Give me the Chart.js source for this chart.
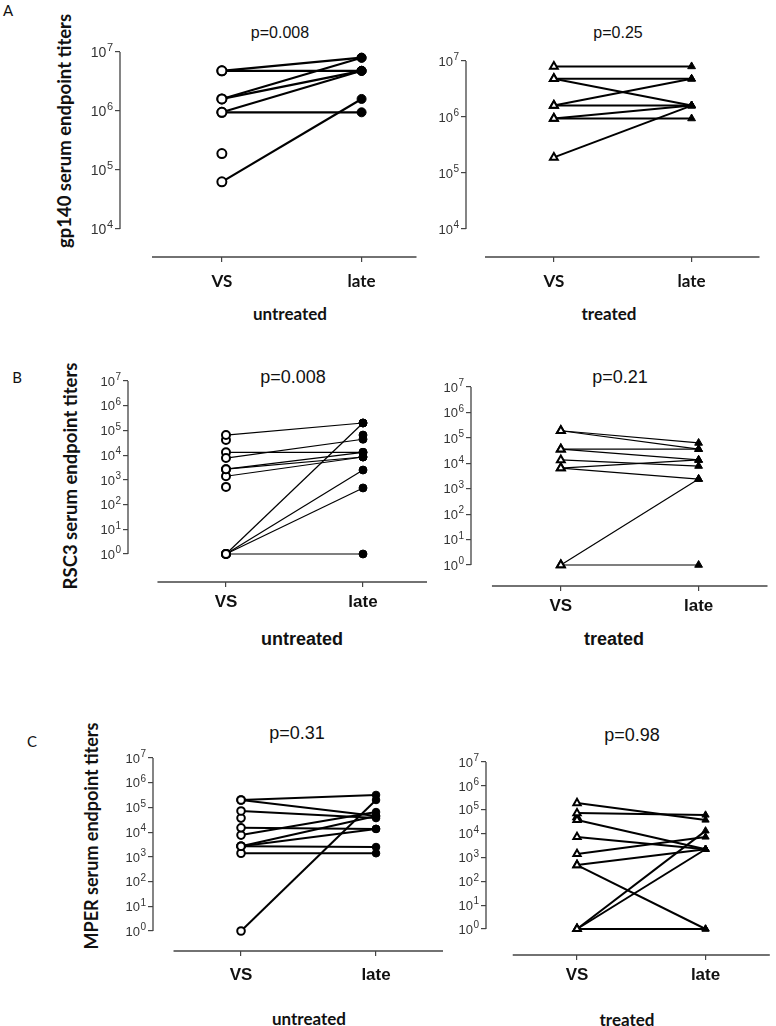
<!DOCTYPE html>
<html>
<head>
<meta charset="utf-8">
<script src="https://cdn.jsdelivr.net/npm/chart.js@4.4.1/dist/chart.umd.min.js"></script>
<style>
  html, body { margin: 0; background: #fff; }
  #fig { position: relative; width: 776px; height: 1026px; overflow: hidden; }
  canvas { position: absolute; }
  .t { position: absolute; transform: translate(-50%, -50%); white-space: nowrap; color: #111; line-height: 1; }
  .cal { font-family: Lato, "Open Sans", sans-serif; }
  .ari { font-family: "Liberation Sans", Arial, sans-serif; }
  .b { font-weight: bold; }
  .rot { transform: translate(-50%, -50%) rotate(-90deg); }
</style>
</head>
<body>
<div id="fig">
  <div class="t cal" style="left:8px;top:10px;font-size:15px">A</div>
  <div class="t ari" style="left:280px;top:33px;font-size:16px">p=0.008</div>
  <div class="t ari" style="left:618px;top:33px;font-size:16px">p=0.25</div>
  <div class="t cal b rot" style="left:64px;top:131px;font-size:18.5px">gp140 serum endpoint titers</div>
  <div class="t cal b" style="left:290px;top:313px;font-size:17px">untreated</div>
  <div class="t cal b" style="left:609px;top:313px;font-size:17px">treated</div>

  <div class="t cal" style="left:17px;top:377px;font-size:15px">B</div>
  <div class="t ari" style="left:293px;top:377px;font-size:18px">p=0.008</div>
  <div class="t ari" style="left:620px;top:377px;font-size:18px">p=0.21</div>
  <div class="t cal b rot" style="left:70px;top:476px;font-size:18.5px">RSC3 serum endpoint titers</div>
  <div class="t ari b" style="left:302px;top:639px;font-size:18px">untreated</div>
  <div class="t ari b" style="left:614px;top:639px;font-size:18px">treated</div>

  <div class="t cal" style="left:32px;top:741px;font-size:15px">C</div>
  <div class="t ari" style="left:297px;top:733px;font-size:18px">p=0.31</div>
  <div class="t ari" style="left:632px;top:735px;font-size:18px">p=0.98</div>
  <div class="t cal b rot" style="left:91px;top:836px;font-size:18px">MPER serum endpoint titers</div>
  <div class="t cal b" style="left:309px;top:1018px;font-size:17px">untreated</div>
  <div class="t cal b" style="left:627px;top:1019px;font-size:17px">treated</div>
</div>

<script>
// x categories; y ticks are powers of ten
const groups = ['VS', 'late'];

// one index = one subject; null = no value at that time point
const aUntreatedVS   = [4.8e6, 4.8e6, 1.6e6, 1.6e6, 9.5e5, 9.5e5, 6.3e4, 1.9e5];
const aUntreatedLate = [8e6,   4.8e6, 8e6,   4.8e6, 4.8e6, 9.5e5, 1.6e6, null];

const aTreatedVS   = [8e6, 4.8e6, 4.8e6, 1.6e6, 1.6e6, 9.4e5, 9.4e5, 1.9e5];
const aTreatedLate = [8e6, 4.8e6, 1.6e6, 4.8e6, 1.6e6, 1.6e6, 9.4e5, 1.6e6];

const bUntreatedVS   = [6.5e4, 7.6e3, 1.3e4, 2.7e3, 2.7e3, 1.4e3, 1,   1,     1,     1, 4.1e4, 5.2e2, null];
const bUntreatedLate = [2e5,   4.4e4, 1.3e4, 1.3e4, 8.4e3, 8.4e3, 2e5, 2.5e3, 4.7e2, 1, null,  null,  6.5e4];

const bTreatedVS   = [1.9e5, 1.9e5, 3.6e4, 3.6e4,  1.35e4, 6.5e3,  6.5e3, 1,     1];
const bTreatedLate = [6.3e4, 3.6e4, 3.6e4, 1.35e4, 7.8e3,  1.35e4, 2.4e3, 2.4e3, 1];

const cUntreatedVS   = [2e5,   2e5,   7.2e4, 1.5e4,  7.6e3, 2.7e3, 2.7e3,  2.7e3, 1.4e3, 1,   3.7e4];
const cUntreatedLate = [3.2e5, 4.5e4, 3.7e4, 1.35e4, 6.5e4, 4.5e4, 1.35e4, 2.5e3, 1.4e3, 2e5, null];

const cTreatedVS   = [1.9e5, 7.2e4, 3.7e4, 7.2e3, 1.4e3, 4.8e2, 4.8e2, 1,     1,     1, 4.9e4];
const cTreatedLate = [3.7e4, 6e4,   2.2e3, 2.2e3, 7.2e3, 2.2e3, 1,     1.3e4, 2.2e3, 1, null];

// Prism-style detached axes + "10^n" labels with a real superscript
const prismAxes = {
  id: 'prismAxes',
  afterDraw(chart, args, o) {
    const { ctx, chartArea, scales } = chart;
    const y = scales.y, x = scales.x;
    ctx.save();
    ctx.strokeStyle = '#444';
    ctx.lineWidth = 1.3;
    ctx.beginPath();
    ctx.moveTo(chartArea.left, y.getPixelForValue(o.yTop));
    ctx.lineTo(chartArea.left, y.getPixelForValue(o.yBottom));
    ctx.moveTo(x.getPixelForValue(o.xStart), chartArea.bottom);
    ctx.lineTo(chartArea.right, chartArea.bottom);
    ctx.stroke();

    // tick labels
    const s = o.tickSize, es = Math.round(s * 0.75);
    const right = chartArea.left - 7;
    ctx.fillStyle = '#333';
    ctx.textBaseline = 'alphabetic';
    ctx.textAlign = 'left';
    y.ticks.forEach(t => {
      const py = y.getPixelForValue(t.value);
      const e = String(Math.round(Math.log10(t.value)));
      ctx.font = es + 'px "Liberation Sans", Arial';
      const ew = ctx.measureText(e).width;
      ctx.font = s + 'px "Liberation Sans", Arial';
      const bw = ctx.measureText('10').width;
      const base = py + s * 0.36;
      ctx.fillText('10', right - ew - bw - 0.5, base);
      ctx.font = es + 'px "Liberation Sans", Arial';
      ctx.fillText(e, right - ew, base - s * 0.42);
    });
    ctx.restore();
  }
};

const panels = [
  { vs: aUntreatedVS, late: aUntreatedLate, shape: 'circle', box: [60, 40, 363, 257], padR: 6,
    xRange: [-0.729, 1.393], yMinExp: 3.525, tickExps: [4, 7], lw: 2.2, r: 4.5, tickSize: 14,
    xFont: { family: 'Lato', size: 17, weight: 'bold' }, xPad: 9 },
  { vs: aTreatedVS, late: aTreatedLate, shape: 'triangle', box: [406, 49, 360, 248], padR: 6,
    xRange: [-0.638, 1.493], yMinExp: 3.5, tickExps: [4, 7], lw: 2, r: 4.5, tickSize: 13,
    xFont: { family: 'Lato', size: 17, weight: 'bold' }, xPad: 9 },
  { vs: bUntreatedVS, late: bUntreatedLate, shape: 'circle', box: [68, 369, 365, 253], padR: 6,
    xRange: [-0.715, 1.467], yMinExp: -1.133, tickExps: [0, 7], lw: 1.2, r: 4, tickSize: 13,
    xFont: { family: 'Liberation Sans', size: 17, weight: 'bold' }, xPad: 5 },
  { vs: bTreatedVS, late: bTreatedLate, shape: 'triangle', box: [411, 375, 363, 251], padR: 6,
    xRange: [-0.652, 1.5], yMinExp: -0.826, tickExps: [0, 7], lw: 1.2, r: 4.5, tickSize: 13,
    xFont: { family: 'Liberation Sans', size: 17, weight: 'bold' }, xPad: 5 },
  { vs: cUntreatedVS, late: cUntreatedLate, shape: 'circle', box: [93, 746, 356, 245], padR: 6,
    xRange: [-0.652, 1.496], yMinExp: -0.809, tickExps: [0, 7], lw: 2, r: 3.8, tickSize: 13,
    xFont: { family: 'Liberation Sans', size: 17, weight: 'bold' }, xPad: 9 },
  { vs: cTreatedVS, late: cTreatedLate, shape: 'triangle', box: [426, 750, 350, 245], padR: 3,
    xRange: [-0.708, 1.5], yMinExp: -1.09, tickExps: [0, 7], lw: 2, r: 4.2, tickSize: 13,
    xFont: { family: 'Liberation Sans', size: 17, weight: 'bold' }, xPad: 5 }
];

const fig = document.getElementById('fig');

panels.forEach(p => {
  const [left, top, w, h] = p.box;
  const canvas = document.createElement('canvas');
  canvas.width = w;
  canvas.height = h;
  canvas.style.left = left + 'px';
  canvas.style.top = top + 'px';
  canvas.style.width = w + 'px';
  canvas.style.height = h + 'px';
  fig.appendChild(canvas);

  const datasets = p.vs.map((v, i) => {
    const pts = [];
    if (v != null) pts.push({ x: 0, y: v });
    if (p.late[i] != null) pts.push({ x: 1, y: p.late[i] });
    return {
      data: pts,
      borderColor: '#000',
      borderWidth: p.lw,
      pointStyle: p.shape,
      pointRadius: p.r,
      pointBorderColor: '#000',
      pointBorderWidth: ctx => (ctx.raw && ctx.raw.x === 0 ? 2 : 1),
      pointBackgroundColor: ctx => (ctx.raw && ctx.raw.x === 0 ? '#fff' : '#000'),
      clip: false
    };
  });

  const exps = [];
  for (let e = p.tickExps[0]; e <= p.tickExps[1]; e++) exps.push(e);

  new Chart(canvas, {
    type: 'line',
    data: { datasets },
    options: {
      responsive: false,
      animation: false,
      layout: { padding: { top: 12, right: p.padR, left: 0, bottom: 0 } },
      plugins: {
        legend: { display: false },
        tooltip: { enabled: false },
        prismAxes: { yTop: 10 ** p.tickExps[1], yBottom: 10 ** p.tickExps[0], xStart: -0.5, tickSize: p.tickSize }
      },
      scales: {
        x: {
          type: 'linear',
          min: p.xRange[0],
          max: p.xRange[1],
          afterBuildTicks: s => { s.ticks = [{ value: 0 }, { value: 1 }]; },
          afterFit: s => { s.height = 40; },
          border: { display: false },
          grid: { drawOnChartArea: false, drawTicks: true, tickLength: 5, color: '#444', lineWidth: 1.2 },
          ticks: { callback: v => groups[v], color: '#111', font: p.xFont, padding: p.xPad, maxRotation: 0 }
        },
        y: {
          type: 'logarithmic',
          min: 10 ** p.yMinExp,
          max: 10 ** p.tickExps[1],
          afterBuildTicks: s => { s.ticks = exps.map(e => ({ value: 10 ** e })); },
          afterFit: s => { s.width = 60; },
          border: { display: false },
          grid: { drawOnChartArea: false, drawTicks: true, tickLength: 5, color: '#444', lineWidth: 1.2 },
          ticks: { display: false }
        }
      }
    },
    plugins: [prismAxes]
  });
});
</script>
</body>
</html>
